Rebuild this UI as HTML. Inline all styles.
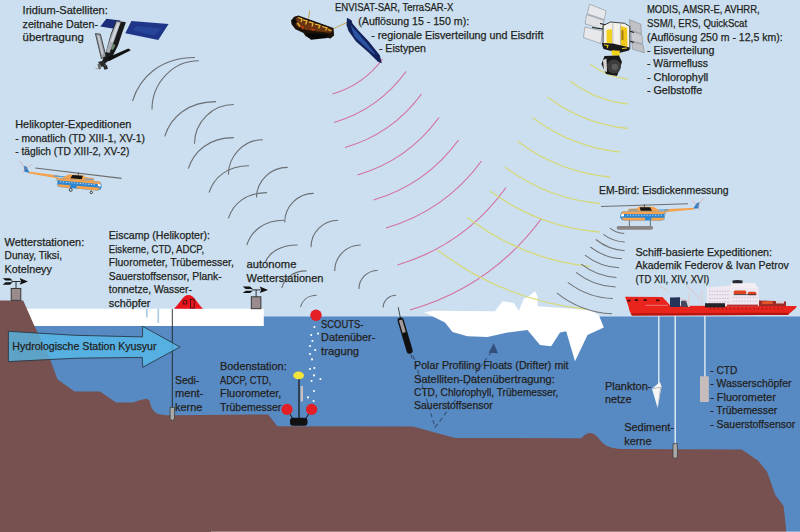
<!DOCTYPE html>
<html><head><meta charset="utf-8"><style>
html,body{margin:0;padding:0;background:#cbdff0;}
svg{display:block}
text{font-family:"Liberation Sans",sans-serif;font-size:11px;fill:#231f20;stroke:#231f20;stroke-width:0.25px;}
</style></head><body>
<svg width="800" height="532" viewBox="0 0 800 532">
<rect width="800" height="532" fill="#cbdff0"/>

<rect x="0" y="316.5" width="800" height="216" fill="#578ac3"/>
<path d="M0 308.8H263.8V326H0Z" fill="#ffffff"/>
<path d="M423.8 312.0 L435.0 310.8 L495.0 311.2 L502.5 301.2 L513.8 303.0 L518.8 310.8 L523.8 298.8 L528.8 296.2 L535.0 291.2 L537.5 296.2 L537.5 306.2 L590.0 310.0 L598.8 315.0 L603.8 327.5 L587.5 335.0 L575.0 361.2 L566.2 331.2 L560.0 332.5 L551.2 346.2 L540.0 345.0 L527.5 330.0 L507.5 332.5 L487.5 337.0 L467.5 336.2 L452.5 332.0 L445.0 322.5Z" fill="#ffffff"/>
<path d="M0.0 300.4 L23.2 300.4 L34.2 325.5 L48.9 356.0 L57.4 379.3 L74.5 391.5 L100.1 391.5 L116.0 402.5 L133.1 402.5 L140.4 400.0 L146.6 398.8 L149.5 400.5 C150.2 404 151 409 156.3 413.2 C160 414.8 165 415.2 171 415.2 L268.3 414.5 L277.3 426.3 L413 426.5 L455.2 438 L581.5 438.2 C585 434 588 433 590.5 433 C594 433 597 436 600 440 C604 445 610 448.5 620 448.9 L741.75 449.5 L758.5 461.1 L767.2 472 L775.3 495 L783.6 506 L786.4 532 L0 532Z" fill="#775050"/>
<rect x="211" y="531" width="589" height="1" fill="#ffffff" opacity="0.3"/>
<path d="M172.3 309V407.5" stroke="#222" stroke-width="0.9"/>
<path d="M8.4 331.3 Q75 336.5 142.5 336.9 L142.7 326.3 L180 347 L142.7 367.3 L142.3 357.4 Q75 357 8.4 361.6Z" fill="#56bbe9" fill-opacity="0.78" stroke="#2a3a48" stroke-width="0.9"/>
<rect x="11.2" y="288.4" width="9.6" height="11.9" fill="#9b8b8d" stroke="#2b2b2b" stroke-width="0.9"/><path d="M16.0 288.4V281.4" stroke="#1a1a1a" stroke-width="0.9"/><path d="M11.6 281.5H20.6" stroke="#1a1a1a" stroke-width="0.9"/><path d="M19.6 278.1 L28.0 281.5 L19.6 284.7 L21.2 281.5Z" fill="#111"/><path d="M2.6 278.2 L9.9 278.2 L12.8 280.6 L5.6 280.6Z M2.6 284.7 L9.9 284.7 L12.8 282.3 L5.6 282.3Z" fill="#111"/>
<rect x="251.3" y="296.8" width="9.6" height="11.9" fill="#9b8b8d" stroke="#2b2b2b" stroke-width="0.9"/><path d="M256.1 296.8V289.8" stroke="#1a1a1a" stroke-width="0.9"/><path d="M251.7 289.9H260.7" stroke="#1a1a1a" stroke-width="0.9"/><path d="M259.7 286.5 L268.1 289.9 L259.7 293.1 L261.3 289.9Z" fill="#111"/><path d="M242.7 286.6 L250.0 286.6 L252.9 289.0 L245.7 289.0Z M242.7 293.1 L250.0 293.1 L252.9 290.7 L245.7 290.7Z" fill="#111"/>
<path d="M174 308.8 C180 303 183 295 188.5 295 C194 295 197 303 203 308.8Z" fill="#e8161c"/>
<rect x="183.2" y="300.6" width="3.6" height="3.4" fill="none" stroke="#3a1010" stroke-width="0.8"/>
<rect x="190.4" y="299.2" width="3.8" height="8.8" fill="none" stroke="#3a1010" stroke-width="0.8"/>
<path d="M146.8 308.8V317.5 M158.3 308.8V323" stroke="#a8cbe6" stroke-width="1.6"/>
<path d="M170.1 407.4 H174.5 V418.5 L172.3 421 L170.1 418.5Z" fill="#a9a9a9" stroke="#333" stroke-width="0.7"/>
<circle cx="314.4" cy="327" r="1.05" fill="#fff"/><circle cx="311.2" cy="335" r="1.05" fill="#fff"/><circle cx="318" cy="333.6" r="1.05" fill="#fff"/><circle cx="312.4" cy="341" r="1.05" fill="#fff"/><circle cx="310" cy="346" r="1.05" fill="#fff"/><circle cx="315.2" cy="350" r="1.05" fill="#fff"/><circle cx="310" cy="354" r="1.05" fill="#fff"/><circle cx="312" cy="359.4" r="1.05" fill="#fff"/><circle cx="310" cy="369" r="1.05" fill="#fff"/><circle cx="314.4" cy="368" r="1.05" fill="#fff"/><circle cx="314" cy="375.4" r="1.05" fill="#fff"/><circle cx="320.4" cy="379" r="1.05" fill="#fff"/><circle cx="311.6" cy="381" r="1.05" fill="#fff"/><circle cx="314" cy="391" r="1.05" fill="#fff"/><circle cx="308" cy="397.4" r="1.05" fill="#fff"/><circle cx="313.6" cy="401" r="1.05" fill="#fff"/>
<circle cx="316" cy="315.3" r="5.7" fill="#e31e24"/>
<path d="M287 409.4 L293 419 M311.6 409.4 L305.5 419" stroke="#111" stroke-width="1"/>
<rect x="290" y="417.8" width="17.5" height="8" rx="3" fill="#111"/>
<path d="M299 379V419" stroke="#111" stroke-width="1.2"/>
<rect x="300.6" y="386" width="2.4" height="15.4" fill="#c9c0bf"/>
<ellipse cx="298.6" cy="375.4" rx="5.4" ry="3.9" fill="#f2e43c"/>
<circle cx="287" cy="409.4" r="5.6" fill="#e31e24"/><circle cx="311.6" cy="409.4" r="5.6" fill="#e31e24"/>
<path d="M398.2 307.2 L400.4 318" stroke="#222" stroke-width="0.8"/>
<g transform="translate(399.8 317.6) rotate(-16.5)"><rect x="-3.1" y="0" width="6.2" height="37.5" rx="3" fill="#111"/><rect x="-1.7" y="2.5" width="3.4" height="13" fill="#a39c9c"/></g>
<path d="M411 354.5 L412.2 358.5" stroke="#222" stroke-width="0.7"/>
<path d="M413.2 355.6 L435.1 427.4 L492.8 350" fill="none" stroke="#34507a" stroke-width="1.05" stroke-dasharray="4.5 3"/>
<path d="M493.7 343.3 L488.6 352.8 L498 353.2Z" fill="#34507a"/>
<path d="M658.8 314V385 M675.2 314V444 M704.9 314V377" stroke="#eef2f6" stroke-width="1.3"/>
<path d="M652 388.8 L660 382 L661.5 386.5 L657.6 408Z" fill="#f6f6f6"/><path d="M660.2 387 L661.5 386.5 L657.6 408 L659 396Z" fill="#b8b8b8"/><path d="M652.3 388.8 L660.3 387.2" stroke="#8a8a8a" stroke-width="0.6"/>
<rect x="700" y="376.3" width="8.8" height="25.7" fill="#c6bcbc"/>
<path d="M673 443.7 H677.4 V456.5 L675.2 459 L673 456.5Z" fill="#a9a9a9" stroke="#333" stroke-width="0.7"/>
<g>
<path d="M625.1 296.8 L662.5 297 L670.5 305.8 L796.5 306 L796.2 307.8 L788 314.8 L632 315.6 Q629.2 312 628.3 306 Z" fill="#e8241c"/>
<path d="M630.5 313.2 L789 312.8 L788 315 L632 315.6Z" fill="#b8150f"/>
<path d="M706.8 287.6 L731 285.6 L758.8 287.2 L758.8 306.2 L706.8 306.2Z" fill="#eee8f0"/>
<path d="M731 282.4 L755.8 283.2 L757 288 L731 287.6Z" fill="#f3eef3"/>
<path d="M732.5 280.6 Q737 279.2 742.6 280.6 L742.4 283.2 L732.6 283.2Z" fill="#262630"/>
<path d="M709 291.2 H730 M709 294.8 H730 M709 298.4 H730 M709 302 H730" stroke="#b9acc9" stroke-width="0.8" stroke-dasharray="1.4 1.2"/>
<path d="M733 297.5 H757 M733 301.2 H757" stroke="#c7b9cf" stroke-width="0.8" stroke-dasharray="1.4 1.4"/>
<rect x="733.6" y="290.4" width="12.8" height="4" rx="1.8" fill="#e2431f"/>
<rect x="747.8" y="291.8" width="8.5" height="3.4" rx="1.5" fill="#e2431f"/>
<path d="M733.6 294.6 H756.4" stroke="#3a3a4a" stroke-width="0.9"/>
<rect x="705" y="303.2" width="20" height="4.2" fill="#23232c"/>
<rect x="727" y="304.6" width="31" height="2" fill="#b83030"/>
<path d="M670 297.6 L680 297.2 L680 307 L670 307Z" fill="#27355a"/>
<path d="M681 301 L686 300 L688 307 L681 307Z" fill="#44485a"/>
<path d="M688.8 292 V307 M701.8 290 V305" stroke="#d9d3dc" stroke-width="1.6"/>
<path d="M687 286.2 L700.5 299 M680 298.5 L689 302 M660 286 L668 291" stroke="#e9b9bd" stroke-width="0.9"/>
<path d="M759 300.5 L786 301.5 L786 306.2 L759 306.2Z" fill="#9c2a26"/>
<path d="M762 301.5 L772 301 L773 304 L762 304.2Z" fill="#e4532c"/>
<path d="M776 300.5 L784 301 L784 303.5 L776 303.5Z" fill="#d8d0d6"/>
<path d="M638.6 297V290.8 M656 297V285" stroke="#d8d8d8" stroke-width="0.8"/>
<path d="M627.4 300.6h3.2M634.8 300.2h3.2M643.5 300.2h3.2M656 300.4h3.4" stroke="#3a0a0a" stroke-width="1.7"/>
<path d="M645.5 305.3 H668" stroke="#f4b0b0" stroke-width="0.6"/>
<path d="M710 308.8 H786" stroke="#4a1010" stroke-width="0.8" stroke-dasharray="1 3"/>
</g>
<path d="M132.5 101.0C140.0 77.1 160.6 57.5 195.0 57.5 M152.0 109.5C152.0 82.7 173.0 60.8 198.8 60.8 M164.7 136.3C170.9 117.2 187.8 101.6 216.0 101.6 M194.5 143.8C194.5 122.2 212.2 104.5 233.8 104.5 M188.3 168.6C193.8 151.5 208.8 137.6 233.8 137.6 M228.4 174.8C228.4 155.5 243.9 139.7 262.8 139.7 M209.0 192.6C213.8 177.8 227.0 165.7 249.0 165.7 M256.5 197.6C256.5 181.0 270.5 167.4 287.6 167.4 M228.4 218.3C233.0 204.2 245.7 192.6 266.9 192.6 M284.7 222.4C284.7 206.5 297.8 193.4 313.7 193.4 M246.8 245.0C251.3 231.4 263.5 220.2 284.0 220.2 M311.0 247.2C311.0 232.3 323.2 220.2 338.1 220.2 M264.8 263.0C268.7 253.1 279.5 245.0 297.5 245.0 M334.7 270.9C334.7 256.7 346.4 245.0 360.7 245.0 M281.7 287.8C284.7 278.5 292.9 270.9 306.5 270.9 M358.9 289.0C358.9 278.8 367.3 270.5 377.6 270.5 M300.5 307.0C302.4 300.6 307.8 295.3 316.7 295.3 M383.2 307.4C383.2 300.7 389.0 295.3 396.1 295.3" fill="none" stroke="#6b6e72" stroke-width="1.1"/>
<path d="M332.5 94.0Q363.4 85.0 382.5 59.0 M334.0 122.5Q378.7 109.2 406.0 71.5 M345.0 147.5Q392.3 133.8 421.5 94.0 M357.5 175.0Q408.0 160.1 439.0 117.5 M373.5 200.0Q426.2 184.4 458.5 140.0 M386.0 228.0Q445.1 210.7 481.5 161.0 M397.5 265.0Q464.9 244.7 506.0 187.5 M410.0 310.0Q491.3 286.6 541.5 218.5" fill="none" stroke="#d4709f" stroke-width="1.2"/>
<path d="M590.0 64.0Q606.6 76.8 627.5 79.0 M570.0 81.0Q595.8 100.6 628.0 104.0 M547.5 97.0Q583.3 124.0 628.0 128.5 M532.5 117.5Q571.4 147.0 620.0 152.0 M517.5 141.2Q558.7 172.0 610.0 177.0 M505.0 167.0Q547.4 198.6 600.0 203.5 M490.0 191.0Q539.0 226.8 599.4 232.0 M467.5 217.5Q522.1 259.3 590.4 266.6 M437.5 250.0Q503.8 300.6 586.8 309.3" fill="none" stroke="#d6d97a" stroke-width="1.3"/>
<path d="M609.9 228.1Q616.2 233.1 624.3 233.5 M603.4 234.4Q612.8 241.6 624.7 242.0 M595.8 239.5Q608.5 249.7 624.7 250.7 M590.4 247.0Q604.3 258.0 622.0 258.8 M585.0 255.2Q600.1 267.0 619.2 267.8 M581.3 264.2Q596.8 276.4 616.5 277.4 M576.0 272.3Q593.4 286.0 615.6 287.1 M567.8 282.3Q587.8 297.6 612.9 298.5 M557.0 293.1Q581.2 312.3 612.0 313.8" fill="none" stroke="#6f7276" stroke-width="1.05"/>
<g>
<path d="M106.4 18.8 L120.4 20.4 L115.5 28.9 L100.3 26.5Z" fill="#1b2d78"/>
<path d="M131.4 21 L168.6 24 L158.3 39.9 L125.3 33.2Z" fill="#1f3588"/>
<path d="M136 26 L162 28.5 L154 35.5 L133 30.5Z" fill="#3560b8" opacity="0.35"/>
<path d="M116.1 20.7 L125.9 22.2 L121.6 34.4 L118 45.4 L111.3 58.8 L104.5 63.7 L102.1 61.3 L106.4 50.3 L110.6 34.4Z" fill="#1a1a1a"/>
<path d="M116.6 21.3 L120.8 22 L114.5 40 L109.5 53 L106 52 L110.8 36Z" fill="#a9adb5"/>
<path d="M117.5 23 L119.5 23.4 L112.5 42 L110.6 41.5Z" fill="#d9dce2"/>
<path d="M113 44 L115.5 45 L113 50 L111 49Z" fill="#6a8a70"/>
<path d="M95.4 33.6 L100.4 34.2 L106 56.4 L101.4 58.6Z" fill="#9a9ea6" stroke="#1a1a1a" stroke-width="0.7"/>
<path d="M97.2 35.5 L99.2 35.8 L103.5 54 L101.8 54.5Z" fill="#c8ccd2"/>
<path d="M106.4 58 L128.4 48.4 L130.8 50.2 L108.8 61.2Z" fill="#111"/>
<path d="M98 62 L104 60.5 L106 65 L101.5 67Z" fill="#2a2a2a"/>
<path d="M97.5 64 L100 63.5 L101 68.8 L98.5 69.5Z" fill="#666"/>
<path d="M103 66 L107 65 L107.8 69 L104.5 69.8Z" fill="#2a2a2a"/>
<path d="M95.5 68.5 L97.5 68.5" stroke="#999" stroke-width="1"/>
</g>
<g>
<path d="M309.75 10.5 L308.5 18.6 M333.5 28.6 L348.5 21.75" stroke="#c9a050" stroke-width="1"/>
<path d="M291 20.5 L294.1 16.75 L298.5 15.5 L333.5 28 L334.1 35.5 L330.4 38.6 L323.5 36.75 L311 39.25 L305.4 36.1 L303.5 33 L295.4 29.25 L291.6 24.25Z" fill="#1c120a"/>
<path d="M297 17 L332 29 L331 33 L318 31.5 L306 30 L298 27 L294 22Z" fill="#6a3410"/>
<path d="M298 17.5 L302 19 L301 22 M303 19.8 L307 21 L305.5 24.5 M309 21.8 L313 23 L312 26.5 M315 24 L320 25.5 L318.5 28.5 M322 26.5 L327 28 L325.5 30.5 M297.5 23 L300 26.5 M328 29.5 L331.5 31" stroke="#e8b838" stroke-width="1.3" fill="none"/>
<path d="M300 25 L304 27 L303 30 Z M310 28 L315 29.5 L313 31Z" fill="#c03a10"/>
<path d="M305.4 33 L327 34.5 L327.5 38 L311 39.8Z" fill="#080808"/>
<circle cx="294.5" cy="21.5" r="2.2" fill="#0a0a0a"/>
<path d="M296.5 14.5 Q298 12.5 300 14" stroke="#eee" stroke-width="0.6" fill="none"/>
<path d="M347 17.8 L351.5 20.2 L352.5 23.5 L357.5 29.5 L368.8 41.5 L379.8 55.2 L381.8 63.2 L378 61.8 L367.5 51.5 L356 41.5 L348.5 31 L346.5 25Z" fill="#14225c"/>
<path d="M350.5 25 L357 32 L367 43.5 L376 55 L372.5 53 L364 45.5 L354.5 36.5 Z" fill="#2f5eb0" opacity="0.85"/>
</g>
<g>
<path d="M589.6 4.2 L606.1 10.8 L604.3 19.6 L587.3 13.8Z" fill="#e6e8ec" stroke="#7a7c80" stroke-width="0.5"/>
<path d="M586.6 14.7 L603.9 20.3 L602.4 29.3 L585 23.8Z" fill="#dfe1e5" stroke="#7a7c80" stroke-width="0.5"/>
<path d="M584.8 27.1 L602.4 30.9 L600.9 43.6 L583.5 37.6Z" fill="#e6e8ec" stroke="#7a7c80" stroke-width="0.5"/>
<path d="M629.5 19.6 L640.7 24.1 L641.6 33.8 L630.4 29.8Z" fill="#bfc1c6" stroke="#7a7c80" stroke-width="0.5"/>
<path d="M630.6 30.8 L641.8 34.8 L642.8 43.8 L631.6 40.8Z" fill="#c9cbd0" stroke="#7a7c80" stroke-width="0.5"/>
<path d="M631.8 41.8 L643 44.8 L644.5 52.8 L632.6 49.2Z" fill="#bfc1c6" stroke="#7a7c80" stroke-width="0.5"/>
<path d="M600 23.5 L611 26 M592 27.5 L603 29 M629 31 L634 32.5 M629.5 41 L634 42.5" stroke="#1a1a1a" stroke-width="1.1"/>
<path d="M603.2 25.5 L610.5 22 L624.6 23.3 L629.8 26.5 L629.8 49 L619 51 L603 47Z" fill="#f3f1ea" stroke="#1a1a1a" stroke-width="0.8"/>
<path d="M606.6 30 L612 29 L612 43 L606.6 43.5Z" fill="#f2d21a"/>
<path d="M620.6 26 L627 28 L627.5 47 L620.6 48Z" fill="#f0c818"/>
<path d="M621.5 30 L623.5 30.5 L623.5 40 L621.5 40Z" fill="#a87a10"/>
<path d="M612.8 23.5 V44 M620.4 24 V49" stroke="#9a9a9a" stroke-width="0.6"/>
<path d="M601.8 43 L612.8 43.5 L629.7 47.5 L629 50.5 L619 53 L603.5 49Z" fill="#1a1a1a"/>
<path d="M604 45 L608 45.5 L607 48 M622 48.5 L627 48" stroke="#f2d21a" stroke-width="1.1"/>
<path d="M611.5 50.3 L619.8 50.8 L619.5 55.8 L612 55.5Z" fill="#f2d318"/>
<path d="M604.5 56 L619 55.5 L622 62 L617 76 L606 74 L601.5 64Z" fill="#181818"/>
<circle cx="614" cy="66.5" r="7" fill="#3c3c3c"/>
<circle cx="614.8" cy="67" r="3.2" fill="#5a5a5a"/>
<path d="M603 60 L606.5 58.5 L607 72 L604 71Z" fill="#d6d6d6"/>
</g>
<g id="heli">
<path d="M601 206.5 L687.9 203.7" stroke="#6d6d6d" stroke-width="1.1"/>
<path d="M644.4 204.3 V207.2" stroke="#555" stroke-width="1.1"/>
<path d="M664 209.2 L694.5 207.8 L694.5 209.6 L664 212.2Z" fill="#f4a24e"/>
<path d="M654.9 209.4 L668.6 209.2 L668.6 210.4 L654.9 210.7Z" fill="#5a9fd6"/>
<path d="M693.3 208.6 L696.6 203.2 L699.6 202.3 L698.2 208.6Z" fill="#2f7fc8"/>
<path d="M691.8 200.4 L697.6 205.4 L700 210.4 M697.6 205.4 L704 197.6" stroke="#e08a7a" stroke-width="0.45" fill="none"/>
<path d="M665 211.5 L666 214.5" stroke="#8a8a8a" stroke-width="0.6"/>
<path d="M628.5 208.7 L637.5 208.2 L638.5 206.8 L653.5 206.8 L657.5 209.2 L661 211.8 L628 211.8Z" fill="#f4a24e"/>
<path d="M639.8 207.3 L650.2 207.3 L652 210.7 L640.6 210.7Z" fill="#151515"/>
<path d="M628.8 209.5 L637.7 209.5 L637.7 210.6 L628.8 210.6Z" fill="#5a9fd6"/>
<path d="M622.3 211.6 L664.6 211.6 L664.6 218.6 Q664.2 220.6 660 220.6 L624.5 220.6 Q620.2 220 620.2 216.2 Q620.3 212.6 622.3 211.6Z" fill="#2f86d0"/>
<path d="M622.3 211.6 L664.6 211.6 L664.6 214 L621.1 214 Q621.4 212.4 622.3 211.6Z" fill="#f4a24e"/>
<path d="M621.7 217.8 L645 217.8 L645 220.6 L624.5 220.6 Q622.3 220 621.7 217.8Z M651.4 217.8 L664.4 217.8 L664.4 219 Q663.5 220.4 660 220.6 L651.4 220.6Z" fill="#f4a24e"/>
<path d="M621.3 214.3 L624 213.8 L624 216.2 L621 216.5Z" fill="#ffffff"/>
<path d="M627 215.2 H662" stroke="#cfe6ff" stroke-width="0.9" stroke-dasharray="1.2 1.6"/>
</g>
<path d="M629.4 220.5 V226.3 M650.4 220.5 V226.3" stroke="#6b6b6b" stroke-width="1"/>
<rect x="616.7" y="226" width="36.3" height="3.7" rx="1.6" fill="#8a8584"/>
<use href="#heli" transform="translate(101.6 186.2) rotate(5) scale(-1 1) translate(-620.2 -216)"/>
<circle cx="70.7" cy="189.9" r="1.5" fill="none" stroke="#333" stroke-width="0.9"/><circle cx="91.3" cy="192.5" r="1.2" fill="none" stroke="#333" stroke-width="0.9"/>
<path d="M70.5 187.5 V188.5 M91.2 190 V191.3" stroke="#555" stroke-width="0.8"/>
<text x="22.6" y="14.0" textLength="85.2" lengthAdjust="spacingAndGlyphs">Iridium-Satelliten:</text>
<text x="22.6" y="27.7" textLength="75.4" lengthAdjust="spacingAndGlyphs">zeitnahe Daten-</text>
<text x="22.6" y="41.3" textLength="61.2" lengthAdjust="spacingAndGlyphs">übertragung</text>
<text x="334.9" y="11.2" textLength="118.4" lengthAdjust="spacingAndGlyphs">ENVISAT-SAR, TerraSAR-X</text>
<text x="358.3" y="24.8" textLength="110.9" lengthAdjust="spacingAndGlyphs">(Auflösung 15 - 150 m):</text>
<text x="371.2" y="38.5" textLength="172.2" lengthAdjust="spacingAndGlyphs">- regionale Eisverteilung und Eisdrift</text>
<text x="378.9" y="52.2" textLength="47.1" lengthAdjust="spacingAndGlyphs">- Eistypen</text>
<text x="646.9" y="13.3" textLength="112.8" lengthAdjust="spacingAndGlyphs">MODIS, AMSR-E, AVHRR,</text>
<text x="646.9" y="26.9" textLength="100.2" lengthAdjust="spacingAndGlyphs">SSM/I, ERS, QuickScat</text>
<text x="646.9" y="40.5" textLength="135.9" lengthAdjust="spacingAndGlyphs">(Auflösung 250 m - 12,5 km):</text>
<text x="646.9" y="54.0" textLength="67.6" lengthAdjust="spacingAndGlyphs">- Eisverteilung</text>
<text x="646.9" y="67.4" textLength="61.1" lengthAdjust="spacingAndGlyphs">- Wärmefluss</text>
<text x="646.9" y="80.9" textLength="61.4" lengthAdjust="spacingAndGlyphs">- Chlorophyll</text>
<text x="646.9" y="94.4" textLength="55.4" lengthAdjust="spacingAndGlyphs">- Gelbstoffe</text>
<text x="15.2" y="128.0" textLength="116.2" lengthAdjust="spacingAndGlyphs">Helikopter-Expeditionen</text>
<text x="15.2" y="141.5" textLength="129.8" lengthAdjust="spacingAndGlyphs">- monatlich (TD XIII-1, XV-1)</text>
<text x="15.2" y="154.9" textLength="114.1" lengthAdjust="spacingAndGlyphs">- täglich (TD XIII-2, XV-2)</text>
<text x="599.0" y="193.6" textLength="129.6" lengthAdjust="spacingAndGlyphs">EM-Bird: Eisdickenmessung</text>
<text x="4.6" y="245.6" textLength="79.6" lengthAdjust="spacingAndGlyphs">Wetterstationen:</text>
<text x="4.6" y="259.2" textLength="57.4" lengthAdjust="spacingAndGlyphs">Dunay, Tiksi,</text>
<text x="4.6" y="272.7" textLength="47.3" lengthAdjust="spacingAndGlyphs">Kotelneyy</text>
<text x="108.8" y="239.0" textLength="101.2" lengthAdjust="spacingAndGlyphs">Eiscamp (Helikopter):</text>
<text x="108.8" y="252.6" textLength="95.4" lengthAdjust="spacingAndGlyphs">Eiskerne, CTD, ADCP,</text>
<text x="108.8" y="266.1" textLength="125.1" lengthAdjust="spacingAndGlyphs">Fluorometer, Trübemesser,</text>
<text x="108.8" y="279.6" textLength="112.9" lengthAdjust="spacingAndGlyphs">Sauerstoffsensor, Plank-</text>
<text x="108.8" y="293.2" textLength="83.1" lengthAdjust="spacingAndGlyphs">tonnetze, Wasser-</text>
<text x="108.8" y="306.7" textLength="41.7" lengthAdjust="spacingAndGlyphs">schöpfer</text>
<text x="246.5" y="268.4" textLength="50.0" lengthAdjust="spacingAndGlyphs">autonome</text>
<text x="246.5" y="282.1" textLength="76.9" lengthAdjust="spacingAndGlyphs">Wetterstationen</text>
<text x="635.4" y="255.8" textLength="136.7" lengthAdjust="spacingAndGlyphs">Schiff-basierte Expeditionen:</text>
<text x="635.4" y="269.1" textLength="153.4" lengthAdjust="spacingAndGlyphs">Akademik Federov &amp; Ivan Petrov</text>
<text x="635.4" y="282.5" textLength="73.9" lengthAdjust="spacingAndGlyphs">(TD XII, XIV, XVI)</text>
<text x="12.3" y="349.9" textLength="144.2" lengthAdjust="spacingAndGlyphs">Hydrologische Station Kyusyur</text>
<text x="321.1" y="327.5" textLength="42.2" lengthAdjust="spacingAndGlyphs">SCOUTS-</text>
<text x="321.1" y="341.2" textLength="54.2" lengthAdjust="spacingAndGlyphs">Datenüber-</text>
<text x="321.1" y="354.5" textLength="38.0" lengthAdjust="spacingAndGlyphs">tragung</text>
<text x="175.0" y="383.6" textLength="24.3" lengthAdjust="spacingAndGlyphs">Sedi-</text>
<text x="175.0" y="397.3" textLength="28.3" lengthAdjust="spacingAndGlyphs">ment-</text>
<text x="175.0" y="411.0" textLength="27.3" lengthAdjust="spacingAndGlyphs">kerne</text>
<text x="220.0" y="370.0" textLength="66.7" lengthAdjust="spacingAndGlyphs">Bodenstation:</text>
<text x="220.0" y="383.6" textLength="51.3" lengthAdjust="spacingAndGlyphs">ADCP, CTD,</text>
<text x="220.0" y="397.3" textLength="61.3" lengthAdjust="spacingAndGlyphs">Fluorometer,</text>
<text x="220.0" y="411.0" textLength="61.3" lengthAdjust="spacingAndGlyphs">Trübemesser</text>
<text x="414.1" y="368.8" textLength="154.5" lengthAdjust="spacingAndGlyphs">Polar Profiling Floats (Drifter) mit</text>
<text x="414.1" y="382.5" textLength="140.7" lengthAdjust="spacingAndGlyphs">Satelliten-Datenübertragung:</text>
<text x="414.1" y="395.9" textLength="144.3" lengthAdjust="spacingAndGlyphs">CTD, Chlorophyll, Trübemesser,</text>
<text x="414.1" y="409.3" textLength="78.6" lengthAdjust="spacingAndGlyphs">Sauerstoffsensor</text>
<text x="604.9" y="389.6" textLength="46.6" lengthAdjust="spacingAndGlyphs">Plankton-</text>
<text x="604.9" y="403.0" textLength="26.6" lengthAdjust="spacingAndGlyphs">netze</text>
<text x="710.2" y="373.7" textLength="27.1" lengthAdjust="spacingAndGlyphs">- CTD</text>
<text x="710.2" y="387.3" textLength="81.3" lengthAdjust="spacingAndGlyphs">- Wasserschöpfer</text>
<text x="710.2" y="400.8" textLength="65.6" lengthAdjust="spacingAndGlyphs">- Fluorometer</text>
<text x="710.2" y="414.4" textLength="67.1" lengthAdjust="spacingAndGlyphs">- Trübemesser</text>
<text x="710.2" y="428.0" textLength="85.1" lengthAdjust="spacingAndGlyphs">- Sauerstoffsensor</text>
<text x="624.2" y="431.3" textLength="49.8" lengthAdjust="spacingAndGlyphs">Sediment-</text>
<text x="624.2" y="444.8" textLength="27.3" lengthAdjust="spacingAndGlyphs">kerne</text>
</svg></body></html>
